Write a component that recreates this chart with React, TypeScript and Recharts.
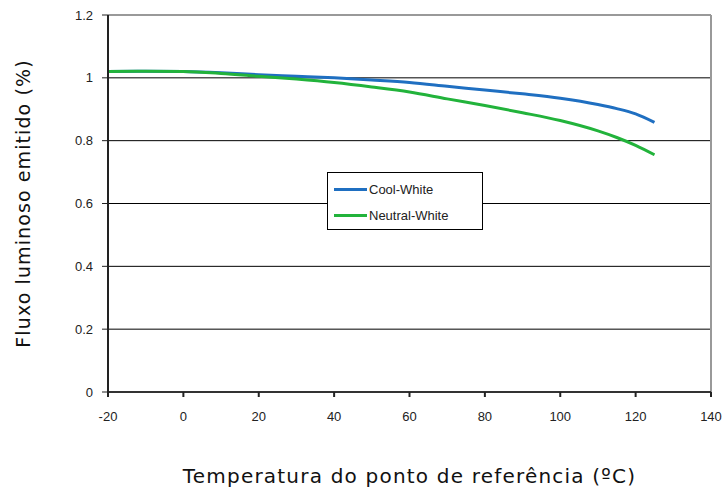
import { LineChart, Line, XAxis, YAxis, CartesianGrid, ReferenceLine, Legend } from 'recharts'

const temps = [-20, -10, 0, 10, 20, 30, 40, 50, 60, 70, 80, 90, 100, 110, 115, 120, 125]
const coolWhite = [1.02, 1.021, 1.02, 1.016, 1.01, 1.005, 1.0, 0.993, 0.985, 0.973, 0.961, 0.949, 0.935, 0.915, 0.902, 0.885, 0.858]
const neutralWhite = [1.02, 1.021, 1.02, 1.014, 1.005, 0.996, 0.985, 0.971, 0.955, 0.933, 0.912, 0.889, 0.864, 0.831, 0.81, 0.785, 0.755]
const xTicks = [-20, 0, 20, 40, 60, 80, 100, 120, 140]
const yTicks = [0, 0.2, 0.4, 0.6, 0.8, 1, 1.2]

const data = temps.map((t, i) => ({ t, cool: coolWhite[i], neutral: neutralWhite[i] }))

const tickStyle = { fill: '#222', fontSize: 13, fontFamily: 'Liberation Sans, Arial, sans-serif' }

function LegendBox() {
  const items = [
    { name: 'Cool-White', color: '#1f6fc1' },
    { name: 'Neutral-White', color: '#22b33b' },
  ]
  return (
    <div style={{
      background: '#fff',
      border: '1px solid #000',
      padding: '3px 4px 3px 6px',
      fontFamily: 'Liberation Sans, Arial, sans-serif',
      fontSize: 13,
      color: '#222',
      boxSizing: 'border-box',
      height: 58,
    }}>
      {items.map((it) => (
        <div key={it.name} style={{ display: 'flex', alignItems: 'center', height: 26 }}>
          <span style={{ width: 33, height: 3, background: it.color, display: 'inline-block', marginRight: 2 }} />
          <span>{it.name}</span>
        </div>
      ))}
    </div>
  )
}

export default function App() {
  return (
    <div style={{ position: 'absolute', left: 0, top: 0, width: 727, height: 490, background: '#fff' }}>
      <LineChart width={727} height={490} data={data} margin={{ top: 15, right: 16, bottom: 68, left: 0 }}>
        <CartesianGrid vertical={false} stroke="#000" horizontalValues={[0.2, 0.4, 0.6, 0.8, 1]} />
        <ReferenceLine y={1.2} stroke="#999" strokeWidth={2} />
        <ReferenceLine x={140} stroke="#999" strokeWidth={2} />
        <XAxis
          dataKey="t"
          type="number"
          domain={[-20, 140]}
          ticks={xTicks}
          tick={tickStyle}
          tickSize={5}
          tickMargin={15}
          stroke="#333"
          strokeWidth={2}
          tickLine={{ stroke: '#222', strokeWidth: 2 }}
          label={{
            value: 'Temperatura do ponto de referência (ºC)',
            position: 'bottom',
            offset: 47,
            style: { fill: '#111', fontSize: 20, letterSpacing: 1.2, fontFamily: 'DejaVu Sans, sans-serif' },
          }}
        />
        <YAxis
          type="number"
          domain={[0, 1.2]}
          ticks={yTicks}
          width={108}
          tick={tickStyle}
          tickSize={6}
          tickMargin={9}
          stroke="#222"
          strokeWidth={2}
          tickLine={{ stroke: '#222', strokeWidth: 1 }}
          label={{
            value: 'Fluxo luminoso emitido (%)',
            angle: -90,
            position: 'insideLeft',
            offset: 23,
            style: { textAnchor: 'middle', fill: '#111', fontSize: 19, letterSpacing: 1.1, fontFamily: 'DejaVu Sans, sans-serif' },
          }}
        />
        <Legend
          content={<LegendBox />}
          layout="vertical"
          align="center"
          verticalAlign="middle"
          wrapperStyle={{ left: 327, top: 172, width: 156, bottom: 'auto' }}
        />
        <Line type="monotone" dataKey="cool" name="Cool-White" stroke="#1f6fc1" strokeWidth={3} dot={false} isAnimationActive={false} />
        <Line type="monotone" dataKey="neutral" name="Neutral-White" stroke="#22b33b" strokeWidth={3} dot={false} isAnimationActive={false} />
      </LineChart>
    </div>
  )
}
